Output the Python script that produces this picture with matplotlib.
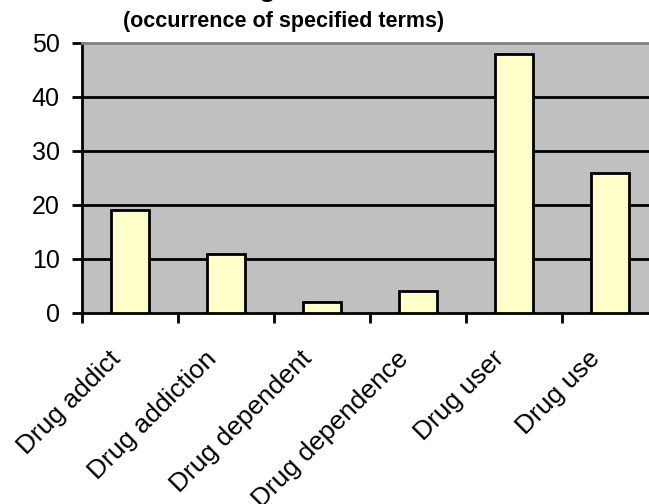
import matplotlib
matplotlib.use("Agg")
import matplotlib.pyplot as plt
import matplotlib.transforms as mtransforms

categories = ["Drug addict", "Drug addiction", "Drug dependent", "Drug dependence", "Drug user", "Drug use"]
values = [19, 11, 2, 4, 48, 26]
yticks = [0, 10, 20, 30, 40, 50]

plt.rcParams['font.family'] = ['Liberation Sans', 'DejaVu Sans']

fig = plt.figure(figsize=(6.49, 5.04), dpi=100)
ax = fig.add_axes([82/649, 1-313/504, 576/649, 270/504])
ax.set_facecolor('#C0C0C0')
x = list(range(len(categories)))
ax.bar(x, values, width=0.4, color='#FFFFCC', edgecolor='black', linewidth=2, zorder=3)
ax.set_xlim(-0.5, len(categories)-0.5)
ax.set_ylim(0, 50)
ax.set_yticks(yticks)
ax.set_yticklabels([str(t) for t in yticks], fontsize=18)
for t in yticks[1:-1]:
    ax.axhline(t, color='black', linewidth=2, zorder=1)
ax.set_xticks([i - 0.5 for i in range(len(categories)+1)])
ax.set_xticklabels([])
ax.set_xticks(x, minor=True)
ax.set_xticklabels(categories, minor=True, rotation=45, ha='right', va='top',
                   rotation_mode='anchor', fontsize=19)
ax.tick_params(axis='x', which='minor', length=0, pad=24)
ax.tick_params(axis='both', which='major', length=7, width=2, direction='out')
ax.tick_params(axis='y', which='major', pad=9)
offset = mtransforms.ScaledTranslation(-22/100, 0, fig.dpi_scale_trans)
for lbl in ax.get_xticklabels(minor=True):
    lbl.set_transform(lbl.get_transform() + offset)
for s in ['left', 'bottom']:
    ax.spines[s].set_linewidth(2)
ax.spines['top'].set_color('#808080')
ax.spines['top'].set_linewidth(2)
ax.spines['right'].set_visible(False)
fig.text(284/649, 1-22/504, "(occurrence of specified terms)", ha='center', va='center', fontsize=15.5, fontweight='bold')
fig.text(284/649, 1+3/504, "Drug terms", ha='center', va='baseline', fontsize=19, fontweight='bold')
fig.savefig("out.png", dpi=100)
